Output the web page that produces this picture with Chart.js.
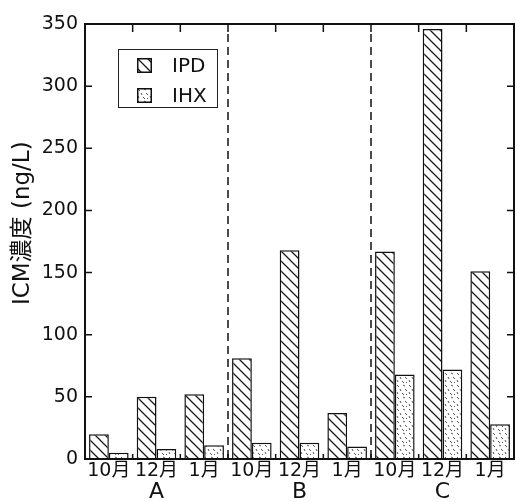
<!DOCTYPE html>
<html>
<head>
<meta charset="utf-8">
<script src="https://cdn.jsdelivr.net/npm/chart.js@4.4.1/dist/chart.umd.min.js"></script>
<style>
  html, body { margin: 0; padding: 0; background: #fff; }
  #wrap { position: relative; width: 516px; height: 502px; }
  #legendBox {
    position: absolute; left: 118px; top: 49px; width: 98px; height: 57px;
    border: 1.5px solid #222; background: #fff;
    font: 20px "DejaVu Sans", sans-serif; color: #111;
  }
  .item { position: absolute; left: 18px; height: 16px; display: flex; align-items: center; }
  .item canvas { display: block; margin-right: 20px; }
</style>
</head>
<body>
<div id="wrap">
  <canvas id="c" width="516" height="502"></canvas>
  <div id="legendBox"></div>
</div>
<script>
// ---------- DATA ----------
const months = ["10月", "12月", "1月"];
const sites = ["A", "B", "C"];
const seriesNames = ["IPD", "IHX"];
const ipdValues = [20, 50, 52, 81, 168, 37, 167, 346, 151];
const ihxValues = [5, 8, 11, 13, 13, 10, 68, 72, 28];
const yTicks = [0, 50, 100, 150, 200, 250, 300, 350];

const labels = sites.flatMap(() => months);
// site letter sits under the middle month of its group
const siteLabels = sites.flatMap(s => months.map((m, i) => (i === 1 ? s : "")));

// ---------- PATTERNS ----------
function hatchTile() {
  const c = document.createElement("canvas");
  c.width = c.height = 10;
  const g = c.getContext("2d");
  g.fillStyle = "#fff"; g.fillRect(0, 0, 10, 10);
  g.strokeStyle = "#1a1a1a"; g.lineWidth = 1.3;
  g.beginPath();
  g.moveTo(-1, -1); g.lineTo(11, 11);
  g.moveTo(-1, 9); g.lineTo(1, 11);
  g.moveTo(9, -1); g.lineTo(11, 1);
  g.stroke();
  return c;
}

function speckleTile() {
  const c = document.createElement("canvas");
  c.width = c.height = 12;
  const g = c.getContext("2d");
  g.fillStyle = "#fff"; g.fillRect(0, 0, 12, 12);
  g.strokeStyle = "#555"; g.lineWidth = 1;
  const segs = [[1,1,3,3],[7,1,9,2],[4,5,5,7],[9,5,11,7],[1,8,2,10],[6,9,8,11],[10,10,11,11]];
  g.beginPath();
  segs.forEach(([a, b, cc, d]) => { g.moveTo(a, b); g.lineTo(cc, d); });
  g.stroke();
  return c;
}

const canvas = document.getElementById("c");
const ctx = canvas.getContext("2d");
const tiles = [hatchTile(), speckleTile()];
const fills = tiles.map(t => ctx.createPattern(t, "repeat"));

// ---------- LEGEND (html) ----------
const box = document.getElementById("legendBox");
seriesNames.forEach((name, i) => {
  const it = document.createElement("div");
  it.className = "item";
  it.style.top = (7 + i * 30) + "px";
  const sw = document.createElement("canvas");
  sw.width = sw.height = 15;
  const g = sw.getContext("2d");
  g.fillStyle = g.createPattern(tiles[i], "repeat");
  g.fillRect(0, 0, 15, 15);
  g.strokeStyle = "#111"; g.lineWidth = 1.5;
  g.strokeRect(0.75, 0.75, 13.5, 13.5);
  const tx = document.createElement("span");
  tx.textContent = name;
  it.appendChild(sw); it.appendChild(tx);
  box.appendChild(it);
});

// ---------- FRAME / TICKS ----------
const framePlugin = {
  id: "frame",
  afterDatasetsDraw(chart) {
    const { ctx, chartArea: { left, right, top, bottom }, scales: { x, y } } = chart;
    ctx.save();
    ctx.strokeStyle = "#111";
    ctx.lineWidth = 2;
    ctx.strokeRect(left, top, right - left, bottom - top);

    ctx.lineWidth = 1.5;
    ctx.beginPath();
    yTicks.forEach(v => {
      const py = y.getPixelForValue(v);
      ctx.moveTo(left, py); ctx.lineTo(left + 7, py);
      ctx.moveTo(right, py); ctx.lineTo(right - 7, py);
    });
    for (let i = 1; i < labels.length; i++) {
      const px = (x.getPixelForValue(i - 1) + x.getPixelForValue(i)) / 2;
      ctx.moveTo(px, top); ctx.lineTo(px, top + 8);
      ctx.moveTo(px, bottom); ctx.lineTo(px, bottom - 5);
    }
    ctx.stroke();

    // dashed separators between sites
    ctx.setLineDash([8, 5]);
    ctx.beginPath();
    for (let s = 1; s < sites.length; s++) {
      const i = s * months.length;
      const px = (x.getPixelForValue(i - 1) + x.getPixelForValue(i)) / 2;
      ctx.moveTo(px, top + 10); ctx.lineTo(px, bottom);
    }
    ctx.stroke();
    ctx.restore();
  }
};

new Chart(canvas, {
  type: "bar",
  data: {
    labels,
    datasets: [
      { label: seriesNames[0], data: ipdValues, backgroundColor: fills[0] },
      { label: seriesNames[1], data: ihxValues, backgroundColor: fills[1] }
    ]
  },
  options: {
    responsive: false,
    animation: false,
    devicePixelRatio: 1,
    layout: { padding: { top: 24, right: 2, left: 0, bottom: 0 } },
    datasets: {
      bar: { borderColor: "#111", borderWidth: 1.5, categoryPercentage: 0.83, barPercentage: 1.0 }
    },
    plugins: { legend: { display: false }, tooltip: { enabled: false } },
    scales: {
      x: {
        grid: { display: false, drawTicks: false },
        border: { display: false },
        ticks: {
          color: "#111", padding: 3, maxRotation: 0, autoSkip: false,
          font: { family: "'DejaVu Sans', 'Noto Sans CJK JP'", size: 19, lineHeight: 1 }
        },
        afterFit(scale) { scale.height = 22; }
      },
      x2: {
        type: "category",
        position: "bottom",
        labels: siteLabels,
        offset: true,
        grid: { display: false, drawTicks: false },
        border: { display: false },
        ticks: {
          color: "#111", padding: 0, maxRotation: 0, autoSkip: false,
          font: { family: "'DejaVu Sans'", size: 22, lineHeight: 1 }
        },
        afterFit(scale) { scale.height = 21; }
      },
      y: {
        min: 0, max: 350,
        grid: { display: false, drawTicks: false },
        border: { display: false },
        ticks: {
          stepSize: 50, color: "#111", padding: 7,
          font: { family: "'DejaVu Sans'", size: 19 }
        },
        title: {
          display: true, text: "     ICM濃度 (ng/L)", color: "#111",
          padding: { top: 9, bottom: 0 },
          font: { family: "'DejaVu Sans', 'Noto Sans CJK JP'", size: 23 }
        },
        afterFit(scale) { scale.width = 85; }
      }
    }
  },
  plugins: [framePlugin]
});
</script>
</body>
</html>
